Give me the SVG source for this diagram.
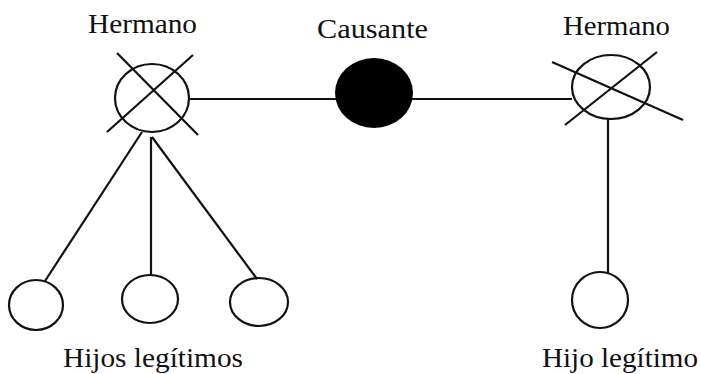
<svg xmlns="http://www.w3.org/2000/svg" width="701" height="374" viewBox="0 0 701 374">
<style>
text{font-family:'Liberation Serif','Times New Roman',serif;font-size:28px;fill:#111}
.n{fill:none;stroke:#111;stroke-width:2.2}
.c{stroke:#111;stroke-width:2.2;fill:none}
</style>
<rect width="701" height="374" fill="#fff"/>
<g id="connectors">
<line class="c" x1="190" y1="99" x2="336" y2="99"/>
<line class="c" x1="412" y1="99" x2="572" y2="99"/>
<line class="c" x1="142" y1="132" x2="45" y2="281"/>
<line class="c" x1="151" y1="137" x2="151" y2="275"/>
<line class="c" x1="152" y1="137" x2="257" y2="279"/>
<line class="c" x1="608" y1="118" x2="608" y2="273"/>
</g>
<g id="hermano-left">
<text x="88" y="33" textLength="109" lengthAdjust="spacingAndGlyphs">Hermano</text>
<ellipse class="n" cx="152" cy="98" rx="37" ry="34"/>
<line class="c" x1="117" y1="53" x2="198" y2="135"/>
<line class="c" x1="193" y1="55" x2="107" y2="132"/>
</g>
<g id="causante">
<text x="317" y="38" textLength="111" lengthAdjust="spacingAndGlyphs">Causante</text>
<ellipse cx="374" cy="93" rx="39" ry="35" fill="#000"/>
</g>
<g id="hermano-right">
<text x="563" y="35" textLength="107" lengthAdjust="spacingAndGlyphs">Hermano</text>
<ellipse class="n" cx="611" cy="87" rx="39" ry="32"/>
<line class="c" x1="552" y1="62" x2="683" y2="120"/>
<line class="c" x1="657" y1="52" x2="565" y2="125"/>
</g>
<g id="hijo1"><ellipse class="n" cx="36" cy="305" rx="27" ry="25"/></g>
<g id="hijo2"><ellipse class="n" cx="150" cy="299" rx="28" ry="24"/></g>
<g id="hijo3"><ellipse class="n" cx="259" cy="302" rx="29" ry="24"/></g>
<g id="hijo-right"><ellipse class="n" cx="600" cy="300" rx="28" ry="28"/></g>
<g id="labels">
<text x="63" y="367" textLength="180" lengthAdjust="spacingAndGlyphs">Hijos legítimos</text>
<text x="542" y="367" textLength="156" lengthAdjust="spacingAndGlyphs">Hijo legítimo</text>
</g>
</svg>
